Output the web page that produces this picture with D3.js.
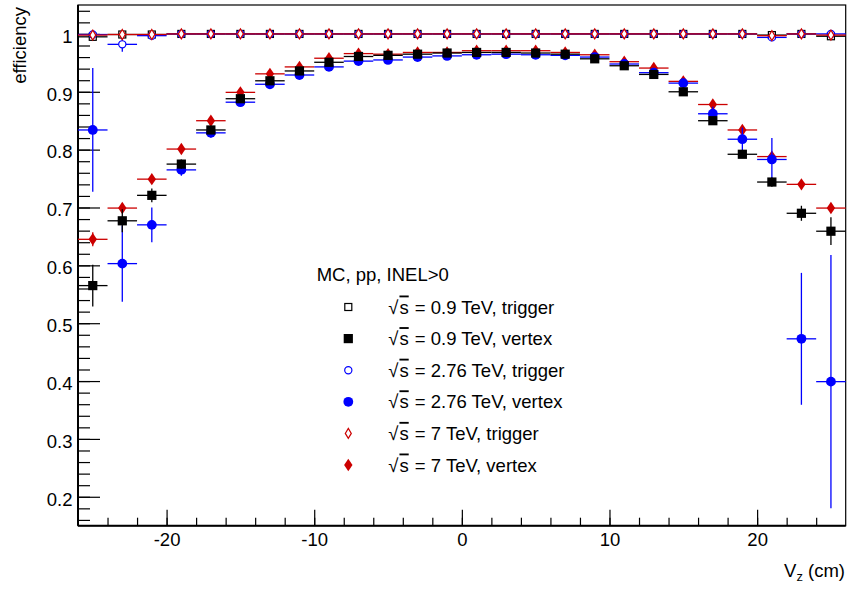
<!DOCTYPE html>
<html><head><meta charset="utf-8">
<script src="https://cdn.jsdelivr.net/npm/d3@7"></script>
<style>
html,body{margin:0;padding:0;background:#fff;}
text{font-family:"Liberation Sans",Arial,Helvetica,sans-serif;}
</style>
</head><body>
<svg id="c" width="848" height="590"></svg>
<script>
// ---------------- data ----------------
const vz = [-25,-23,-21,-19,-17,-15,-13,-11,-9,-7,-5,-3,-1,1,3,5,7,9,11,13,15,17,19,21,23,25];
const binHalfWidth = 1;

const trig09  = [0.995,0.999,0.999,1.000,1.000,1.000,1.000,1.000,1.000,1.000,1.000,1.000,1.000,1.000,1.000,1.000,1.000,1.000,1.000,1.000,1.000,1.000,1.000,0.998,1.000,0.996];
const trig276 = [0.999,0.982,0.997,1.000,1.000,1.000,1.000,1.000,1.000,1.000,1.000,1.000,1.000,1.000,1.000,1.000,1.000,1.000,1.000,1.000,1.000,1.000,1.000,0.994,1.000,1.000];
const trig7   = [0.998,0.999,0.999,1.000,1.000,1.000,1.000,1.000,1.000,1.000,1.000,1.000,1.000,1.000,1.000,1.000,1.000,1.000,1.000,1.000,1.000,1.000,1.000,0.997,1.000,0.998];
const trig09Err  = [0.004,0.002,0.001,0.001,0.001,0.001,0.001,0.001,0.001,0.001,0.001,0.001,0.001,0.001,0.001,0.001,0.001,0.001,0.001,0.001,0.001,0.001,0.001,0.002,0.002,0.004];
const trig276Err = [0.006,0.013,0.003,0.001,0.001,0.001,0.001,0.001,0.001,0.001,0.001,0.001,0.001,0.001,0.001,0.001,0.001,0.001,0.001,0.001,0.001,0.001,0.001,0.005,0.003,0.006];
const trig7Err   = [0.003,0.002,0.001,0.001,0.001,0.001,0.001,0.001,0.001,0.001,0.001,0.001,0.001,0.001,0.001,0.001,0.001,0.001,0.001,0.001,0.001,0.001,0.001,0.002,0.002,0.003];

const vtx09  = [0.565,0.677,0.721,0.775,0.834,0.888,0.919,0.936,0.951,0.961,0.963,0.965,0.967,0.968,0.968,0.967,0.965,0.957,0.945,0.930,0.900,0.850,0.792,0.744,0.690,0.659];
const vtx276 = [0.834,0.603,0.670,0.765,0.829,0.882,0.913,0.929,0.943,0.953,0.955,0.960,0.962,0.964,0.965,0.964,0.963,0.960,0.948,0.933,0.915,0.862,0.818,0.783,0.473,0.399];
const vtx7   = [0.645,0.699,0.749,0.801,0.850,0.899,0.931,0.943,0.958,0.966,0.965,0.968,0.968,0.971,0.971,0.971,0.968,0.964,0.952,0.941,0.918,0.878,0.834,0.788,0.740,0.699];
const vtx09Err  = [0.036,0.020,0.012,0.008,0.006,0.004,0.003,0.003,0.003,0.003,0.003,0.003,0.003,0.003,0.003,0.003,0.003,0.003,0.003,0.003,0.004,0.005,0.006,0.008,0.013,0.024];
const vtx276Err = [0.107,0.066,0.030,0.010,0.008,0.006,0.005,0.005,0.004,0.004,0.004,0.004,0.004,0.004,0.004,0.004,0.004,0.004,0.005,0.006,0.008,0.012,0.020,0.037,0.114,0.219];
const vtx7Err   = [0.012,0.008,0.006,0.004,0.003,0.003,0.002,0.002,0.002,0.002,0.002,0.002,0.002,0.002,0.002,0.002,0.002,0.002,0.002,0.002,0.003,0.004,0.005,0.006,0.006,0.008];

const legendTitle = "MC, pp, INEL>0";
const legendEnergies = ["0.9","0.9","2.76","2.76","7","7"];
const legendKinds = ["trigger","vertex","trigger","vertex","trigger","vertex"];
const yTickValues = [0.2,0.3,0.4,0.5,0.6,0.7,0.8,0.9,1.0];
const xTickValues = [-20,-10,0,10,20];
const yLabel = "efficiency";

// ---------------- layout ----------------
const svg = d3.select("#c");
const L = 78, R = 845.7, T = 5, B = 525.7;
const x = d3.scaleLinear().domain([-26, 26]).range([L, R]);
const y = d3.scaleLinear().domain([0.15, 1.05]).range([B, T]);
const FS = 18.5;
const BLACK = "#000000", BLUE = "#0000ff", RED = "#cc0000";

// frame
svg.append("rect").attr("x", L).attr("y", T).attr("width", R - L).attr("height", B - T)
  .attr("fill", "none").attr("stroke", "#000").attr("stroke-width", 1.2);

// y axis
const yMinor = d3.range(0.16, 1.05, 0.02).map(v => +v.toFixed(2));
svg.append("g").attr("transform", `translate(${L},0)`)
  .call(d3.axisLeft(y).tickValues(yMinor).tickSize(-12).tickFormat(""))
  .call(g => g.select(".domain").remove())
  .call(g => g.selectAll("line").attr("stroke-width", 1.2));
const yAx = svg.append("g").attr("transform", `translate(${L},0)`)
  .call(d3.axisLeft(y).tickValues(yTickValues).tickSize(-22).tickPadding(5.5)
    .tickFormat(d => d === 1 ? "1" : d3.format(".1f")(d)));
yAx.select(".domain").attr("stroke-width", 2).attr("d", `M0,${B}V${T}`);
yAx.selectAll("line").attr("stroke-width", 1.2);
yAx.selectAll("text").attr("font-size", FS).attr("dy", "0.45em").attr("fill", "#000");
yAx.attr("font-family", null);

// x axis
const xMinor = d3.range(-24, 26, 2);
svg.append("g").attr("transform", `translate(0,${B})`)
  .call(d3.axisBottom(x).tickValues(xMinor).tickSize(-8).tickFormat(""))
  .call(g => g.select(".domain").remove())
  .call(g => g.selectAll("line").attr("stroke-width", 1.2));
const xAx = svg.append("g").attr("transform", `translate(0,${B})`)
  .call(d3.axisBottom(x).tickValues(xTickValues).tickSize(-16).tickPadding(7).tickFormat(d => String(d)));
xAx.select(".domain").attr("stroke-width", 2).attr("d", `M${L},0H${R}`);
xAx.selectAll("line").attr("stroke-width", 1.2);
xAx.selectAll("text").attr("font-size", FS).attr("fill", "#000");
xAx.attr("font-family", null);

// axis titles
svg.append("text").attr("transform", "translate(26,7) rotate(-90)")
  .attr("text-anchor", "end").attr("font-size", FS).text(yLabel);
const xt = svg.append("text").attr("x", 845).attr("y", 576.7).attr("text-anchor", "end").attr("font-size", FS);
xt.append("tspan").text("V");
xt.append("tspan").attr("font-size", FS * 0.7).attr("dy", 4).text("z");
xt.append("tspan").attr("dy", -4).text(" (cm)");

// ---------------- markers ----------------
const markers = {
  openSquare: (g, c) => g.append("rect").attr("x", -3.5).attr("y", -3.5).attr("width", 7).attr("height", 7).attr("fill", "#fff").attr("stroke", c).attr("stroke-width", 1.2),
  fullSquare: (g, c) => g.append("rect").attr("x", -4.6).attr("y", -4.6).attr("width", 9.2).attr("height", 9.2).attr("fill", c),
  openCircle: (g, c) => g.append("circle").attr("r", 3.6).attr("fill", "#fff").attr("stroke", c).attr("stroke-width", 1.2),
  fullCircle: (g, c) => g.append("circle").attr("r", 4.9).attr("fill", c),
  openDiamond: (g, c) => g.append("path").attr("d", "M0,-5L3,0L0,5L-3,0Z").attr("fill", "#fff").attr("stroke", c).attr("stroke-width", 1.2),
  fullDiamond: (g, c) => g.append("path").attr("d", "M0,-6.2L4.2,0L0,6.2L-4.2,0Z").attr("fill", c)
};

function drawSeries(vals, errs, color, marker) {
  const g = svg.append("g");
  vz.forEach((v, i) => {
    const cx = x(v), cy = y(vals[i]);
    g.append("line").attr("x1", x(v - binHalfWidth)).attr("x2", x(v + binHalfWidth))
      .attr("y1", cy).attr("y2", cy).attr("stroke", color).attr("stroke-width", 1.3);
    g.append("line").attr("x1", cx).attr("x2", cx)
      .attr("y1", y(vals[i] - errs[i])).attr("y2", y(vals[i] + errs[i]))
      .attr("stroke", color).attr("stroke-width", 1.3);
  });
  vz.forEach((v, i) => {
    const m = g.append("g").attr("transform", `translate(${x(v)},${y(vals[i])})`);
    markers[marker](m, color);
  });
}

drawSeries(vtx7, vtx7Err, RED, "fullDiamond");
drawSeries(vtx276, vtx276Err, BLUE, "fullCircle");
drawSeries(vtx09, vtx09Err, BLACK, "fullSquare");
drawSeries(trig09, trig09Err, BLACK, "openSquare");
drawSeries(trig276, trig276Err, BLUE, "openCircle");
drawSeries(trig7, trig7Err, RED, "openDiamond");

// ---------------- legend ----------------
svg.append("text").attr("x", 316.7).attr("y", 280.7).attr("font-size", FS).text(legendTitle);
const legMarkers = ["openSquare","fullSquare","openCircle","fullCircle","openDiamond","fullDiamond"];
const legColors = [BLACK, BLACK, BLUE, BLUE, RED, RED];
legMarkers.forEach((mk, i) => {
  const cy = 307 + i * 31.6;
  const m = svg.append("g").attr("transform", `translate(348.3,${cy})`);
  markers[mk](m, legColors[i]);
  const t = svg.append("text").attr("x", 388.3).attr("y", cy + 6.5).attr("font-size", FS);
  t.append("tspan").text("\u221A");
  t.append("tspan").attr("dx", 1).style("text-decoration", "overline").text("s");
  t.append("tspan").attr("dx", 1).text(` = ${legendEnergies[i]} TeV, ${legendKinds[i]}`);
});
</script>
</body></html>
